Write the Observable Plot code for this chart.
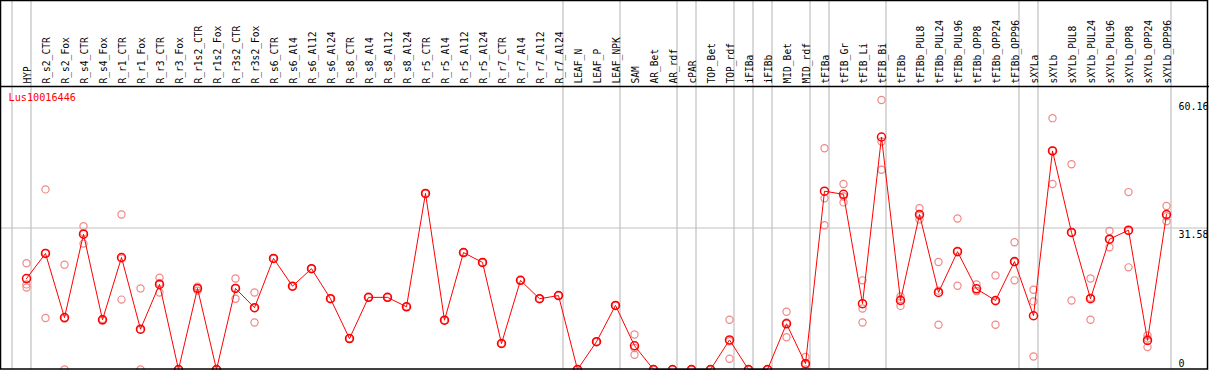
<!DOCTYPE html>
<html>
<head>
<meta charset="utf-8">
<script src="https://cdn.jsdelivr.net/npm/d3@7"></script>
<script src="https://cdn.jsdelivr.net/npm/@observablehq/plot@0.6"></script>
<style>
  html, body { margin: 0; padding: 0; background: #fff; }
  svg { display: block; }
</style>
</head>
<body>
<div id="chart"></div>
<script>
const title = "Lus10016446";
const samples = ["HYP","R_s2_CTR","R_s2_Fox","R_s4_CTR","R_s4_Fox","R_r1_CTR","R_r1_Fox","R_r3_CTR","R_r3_Fox","R_r1s2_CTR","R_r1s2_Fox","R_r3s2_CTR","R_r3s2_Fox","R_s6_CTR","R_s6_Al4","R_s6_Al12","R_s6_Al24","R_s8_CTR","R_s8_Al4","R_s8_Al12","R_s8_Al24","R_r5_CTR","R_r5_Al4","R_r5_Al12","R_r5_Al24","R_r7_CTR","R_r7_Al4","R_r7_Al12","R_r7_Al24","LEAF_N","LEAF_P","LEAF_NPK","SAM","AR_Bet","AR_rdf","cPAR","TOP_Bet","TOP_rdf","iFIBa","iFIBb","MID_Bet","MID_rdf","tFIBa","tFIB_Gr","tFIB_Li","tFIB_Bi","tFIBb","tFIBb_PUL8","tFIBb_PUL24","tFIBb_PUL96","tFIBb_OPP8","tFIBb_OPP24","tFIBb_OPP96","sXYLa","sXYLb","sXYLb_PUL8","sXYLb_PUL24","sXYLb_PUL96","sXYLb_OPP8","sXYLb_OPP24","sXYLb_OPP96"];
const means = [20.3,25.9,11.6,30.2,11.1,25.0,9.0,19.0,0,18.1,0,18.1,13.8,24.8,18.6,22.5,15.8,6.9,16.1,16.1,14.0,39.3,11.0,26.1,23.9,5.8,19.9,15.8,16.5,0,6.2,14.3,5.3,0,0,0,0,6.6,0,0,10.2,1.3,39.8,39.1,14.7,51.9,15.4,34.6,17.2,26.3,18.0,15.4,24.1,12.0,48.8,30.6,15.8,29.1,31.1,6.5,34.6];
const rep1 = [23.7,40.2,23.4,32.0,11.3,34.6,18.1,20.5,0,18.5,0,20.3,17.2,24.8,18.6,22.5,15.8,6.9,16.1,16.1,14.0,39.3,11.0,26.1,23.9,5.8,19.9,15.8,16.5,0,6.2,14.3,7.8,0,0,0,0,11.1,0,0,12.9,2.8,49.4,41.4,19.9,60.16,16.3,36.0,24.0,33.7,19.0,21.0,28.4,17.8,56.1,45.8,20.3,30.9,39.6,7.6,36.5];
const rep2 = [19.0,11.5,0,28.1,11.0,15.6,0,17.2,0,17.6,0,15.8,10.5,24.8,18.6,22.5,15.8,6.9,16.1,16.1,14.0,39.3,11.0,26.1,23.9,5.8,19.9,15.8,16.5,0,6.2,14.3,4.8,0,0,0,0,2.4,0,0,7.2,0,38.2,37.3,13.6,50.9,14.2,33.5,10.0,18.7,17.5,10.0,19.9,15.2,41.4,15.4,11.1,27.3,22.8,5.0,33.1];
const rep3 = [18.3,26.0,11.4,30.5,11.0,24.8,8.9,19.3,0,18.2,0,18.2,13.7,24.8,18.6,22.5,15.8,6.9,16.1,16.1,14.0,39.3,11.0,26.1,23.9,5.8,19.9,15.8,16.5,0,6.2,14.3,3.3,0,0,0,0,6.3,0,0,10.5,1.1,32.2,38.6,10.5,44.6,15.7,34.3,17.6,26.5,17.5,15.2,24.0,2.9,48.9,30.6,16.0,29.1,30.9,6.9,34.2];
// index of last sample in each group (grid separators drawn after it)
const groupEnds = [-1,0,28,31,34,35,37,38,39,41,42,45,52,53,60];
const yTicks = [0, 31.58, 60.16];
const yMax = 63.17;

const meanData = samples.map((s, i) => ({i, s, v: means[i]}));
const repData = [];
samples.forEach((s, i) => { [rep1, rep2, rep3].forEach(r => repData.push({i, s, v: r[i]})); });

const W = 1209, H = 370;
const step = 19, firstX = 26;
const font = "DejaVu Sans Mono, monospace";

const chart = Plot.plot({
  width: W,
  height: H,
  marginTop: 86,
  marginBottom: 1,
  marginLeft: 0,
  marginRight: 0,
  style: {fontFamily: font, background: "#fff"},
  x: {type: "linear", domain: [-firstX / step, (W - firstX) / step], axis: null},
  y: {domain: [0, yMax], axis: null},
  marks: [
    Plot.ruleY([yTicks[1]], {stroke: "#c0c0c0", strokeWidth: 1, insetLeft: 1, insetRight: 2}),
    Plot.ruleX(groupEnds, {x: d => d + 4.5 / step, stroke: "#c0c0c0", strokeWidth: 1.2, insetTop: -86}),
    Plot.ruleY([yMax], {stroke: "#000", strokeWidth: 1.5}),
    Plot.text(samples, {x: (d, i) => i, text: d => d, frameAnchor: "top", dx: -2.5, dy: -3, rotate: -90, textAnchor: "start", fontSize: 9.6, fill: "#000"}),
    Plot.dot(repData, {x: "i", y: "v", r: 3.6, stroke: "#f08888", strokeWidth: 1.2, fill: "none"}),
    Plot.line(meanData, {x: "i", y: "v", stroke: "#ff0000", strokeWidth: 1}),
    Plot.dot(meanData, {x: "i", y: "v", r: 4, stroke: "#ff0000", strokeWidth: 1.5, fill: "none"}),
    Plot.text([title], {frameAnchor: "top-left", dx: 8, dy: 7.5, lineAnchor: "top", text: d => d, fill: "#ff0000", fontSize: 10.2}),
    Plot.text(yTicks.slice(1), {y: d => d, text: d => String(d), frameAnchor: "right", textAnchor: "start", dx: -31, dy: 2.5, lineAnchor: "top", fontSize: 10, fill: "#000"}),
    Plot.text(yTicks.slice(0, 1), {y: d => d, text: d => String(d), frameAnchor: "right", textAnchor: "start", dx: -31, dy: -3, lineAnchor: "bottom", fontSize: 10, fill: "#000"})
  ]
});

d3.select(chart).append("rect")
  .attr("x", 0.5).attr("y", 0.5)
  .attr("width", 1207).attr("height", 368.5)
  .attr("fill", "none").attr("stroke", "#000").attr("stroke-width", 1.5);

document.getElementById("chart").appendChild(chart);
</script>
</body>
</html>
